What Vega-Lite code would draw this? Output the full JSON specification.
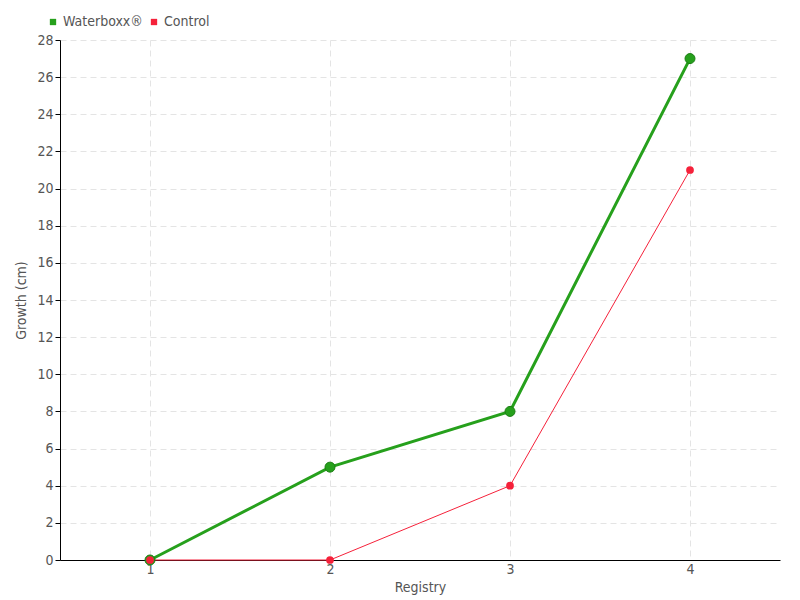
{
  "$schema": "https://vega.github.io/schema/vega-lite/v6.json",
  "autosize": "none",
  "width": 720,
  "height": 520,
  "padding": {"left": 60, "top": 40, "right": 20, "bottom": 40},
  "background": "white",
  "config": {
    "font": "DejaVu Sans Condensed",
    "view": {"stroke": null},
    "axis": {
      "labelColor": "#555555",
      "titleColor": "#555555",
      "labelFontSize": 14,
      "titleFontSize": 14,
      "titleFontWeight": "normal",
      "domainColor": "#000000",
      "tickColor": "#000000",
      "gridColor": "#e4e4e4",
      "gridDash": [6, 4]
    }
  },
  "data": {
    "values": [
      {"registry": 1, "growth": 0, "series": "Waterboxx®"},
      {"registry": 2, "growth": 5, "series": "Waterboxx®"},
      {"registry": 3, "growth": 8, "series": "Waterboxx®"},
      {"registry": 4, "growth": 27, "series": "Waterboxx®"},
      {"registry": 1, "growth": 0, "series": "Control"},
      {"registry": 2, "growth": 0, "series": "Control"},
      {"registry": 3, "growth": 4, "series": "Control"},
      {"registry": 4, "growth": 21, "series": "Control"}
    ]
  },
  "encoding": {
    "x": {
      "field": "registry", "type": "quantitative",
      "scale": {"domain": [0.5, 4.5], "nice": false, "zero": false},
      "axis": {"values": [1, 2, 3, 4], "title": "Registry", "ticks": false, "labelPadding": 2, "titlePadding": 4, "format": "d"}
    },
    "y": {
      "field": "growth", "type": "quantitative",
      "scale": {"domain": [0, 28], "nice": false},
      "axis": {"values": [0,2,4,6,8,10,12,14,16,18,20,22,24,26,28], "title": "Growth (cm)", "tickSize": 5, "titlePadding": 8}
    },
    "color": {
      "field": "series", "type": "nominal",
      "scale": {"domain": ["Waterboxx®", "Control"], "range": ["#26a01c", "#f5213a"]},
      "legend": {
        "title": null, "orient": "none", "legendX": -14, "legendY": -25,
        "direction": "horizontal", "symbolType": "square", "symbolSize": 40,
        "symbolStrokeWidth": 0, "symbolOpacity": 1, "labelOffset": 3,
        "labelFontSize": 14, "labelColor": "#555555", "columnPadding": 4
      }
    }
  },
  "layer": [
    {
      "transform": [{"filter": "datum.series === 'Control'"}],
      "mark": {"type": "line", "strokeWidth": 1}
    },
    {
      "transform": [{"filter": "datum.series === 'Waterboxx®'"}],
      "mark": {"type": "line", "strokeWidth": 3}
    },
    {
      "transform": [{"filter": "datum.series === 'Waterboxx®'"}],
      "mark": {"type": "point", "filled": true, "opacity": 1, "size": 100, "stroke": "#1c7f14", "strokeWidth": 1}
    },
    {
      "transform": [{"filter": "datum.series === 'Control'"}],
      "mark": {"type": "point", "filled": true, "opacity": 1, "size": 60}
    }
  ]
}
